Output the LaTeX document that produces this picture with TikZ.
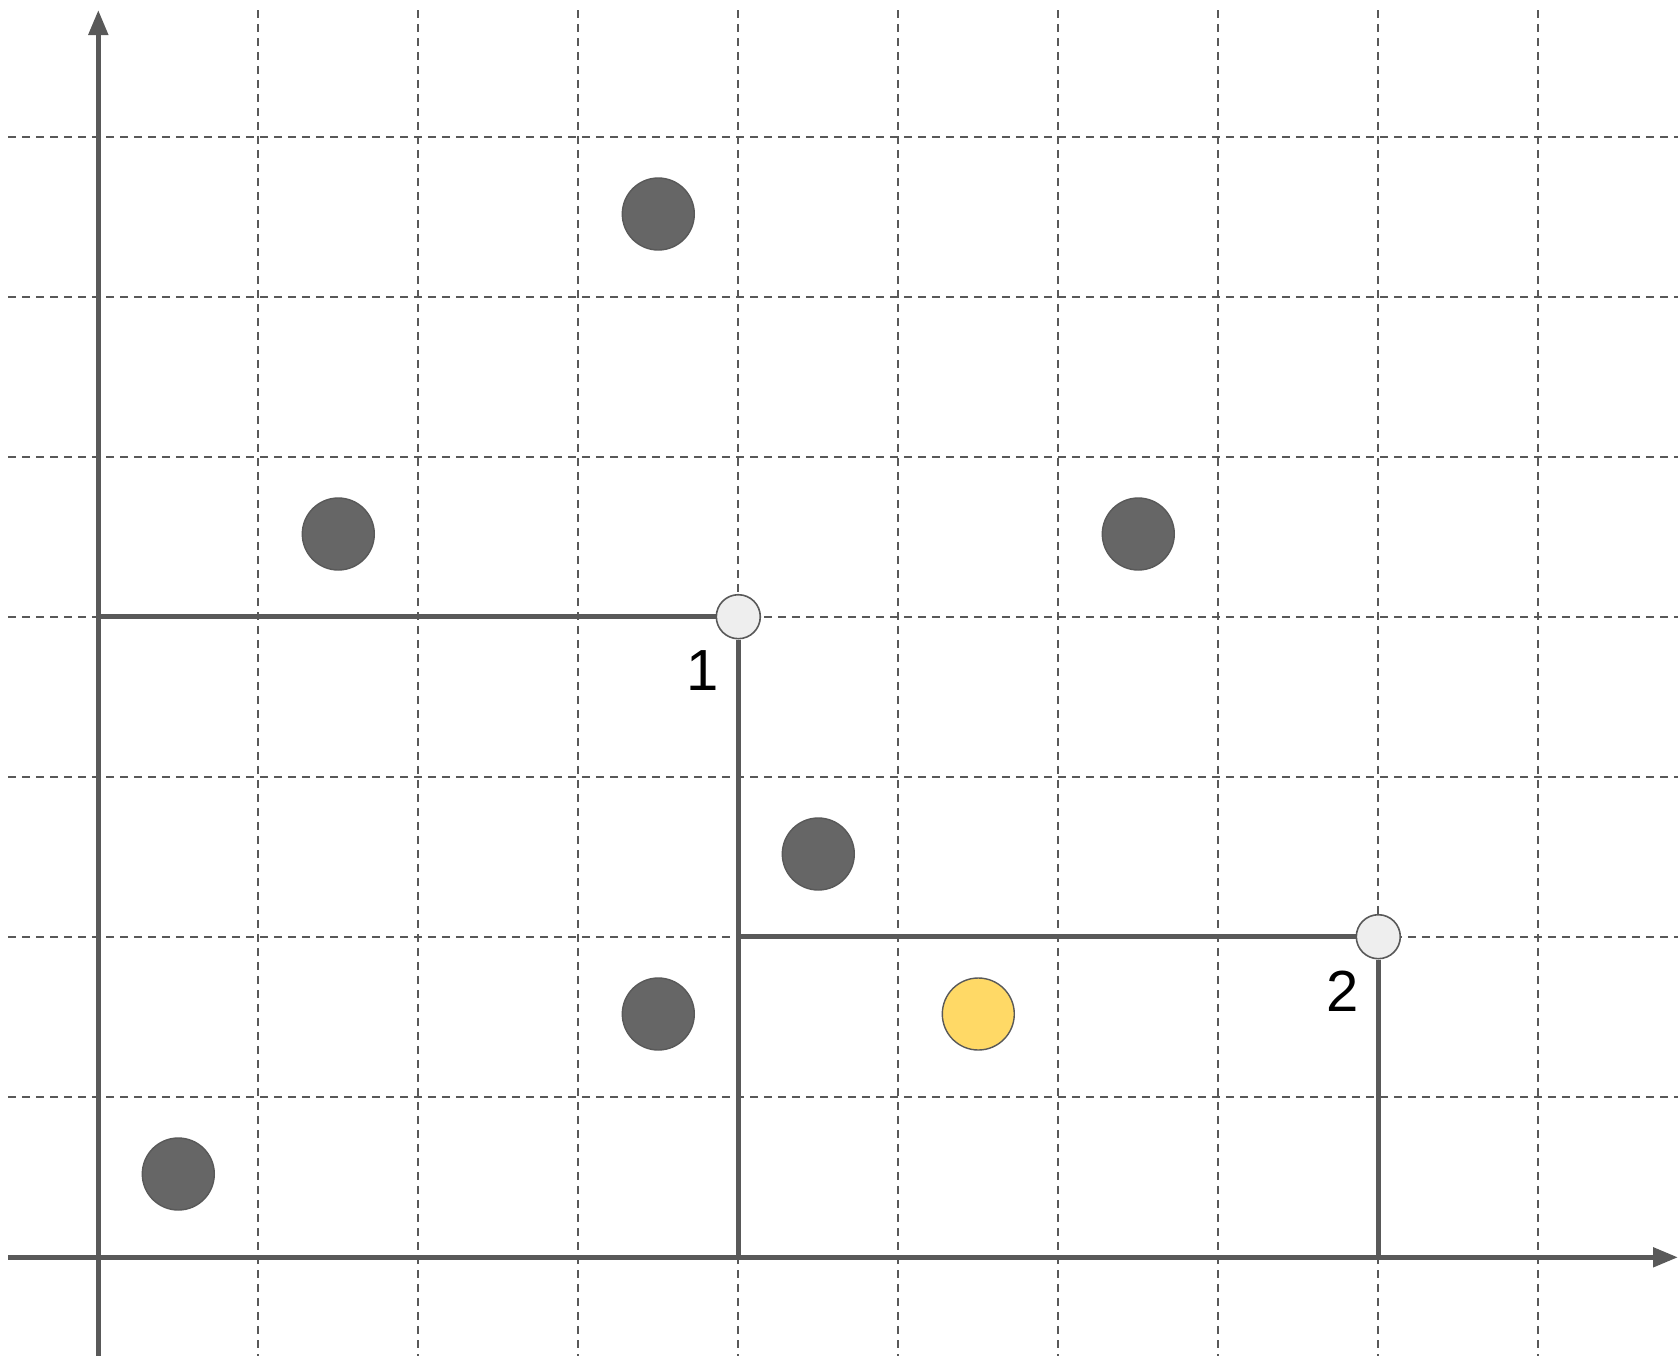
\documentclass[tikz,border=0pt]{standalone}
\usepackage{fontspec}
\setmainfont{Liberation Sans}
\usetikzlibrary{arrows.meta}
\definecolor{linegray}{HTML}{595959}
\definecolor{dotgray}{HTML}{666666}
\definecolor{lightfill}{HTML}{EEEEEE}
\definecolor{yellowfill}{HTML}{FFD966}
\begin{document}
\begin{tikzpicture}[x=0.5pt,y=-0.5pt,
  gridline/.style={draw=linegray, line width=1pt, dash pattern=on 4pt off 3pt},
  axis/.style={draw=linegray, line width=2.5pt, -{Triangle[length=12.5pt,width=9.5pt]}},
  stepline/.style={draw=linegray, line width=2.7pt},
  dot/.style={circle, minimum size=36pt, inner sep=0pt, fill=dotgray, draw=linegray, line width=0.7pt},
  ydot/.style={dot, fill=yellowfill},
  corner/.style={circle, minimum size=22pt, inner sep=0pt, fill=lightfill, draw=linegray, line width=0.8pt},
  lbl/.style={font=\fontsize{29}{34}\selectfont, inner sep=0pt, text=black}]
\useasboundingbox (0,0) rectangle (1678,1356);
% grid
\foreach \x in {258.3,418.3,578.3,738.3,898.3,1058.3,1218.3,1378.3,1538.3}
  \draw[gridline] (\x,10) -- (\x,1356);
\foreach \y in {136.7,296.7,456.7,616.7,776.7,936.7,1096.7}
  \draw[gridline] (8,\y) -- (1678,\y);
% axes
\coordinate (O) at (98.3,1257.3);
\coordinate (ytop) at (98.3,10);
\coordinate (ybot) at (98.3,1356);
\coordinate (xleft) at (8,1257.3);
\coordinate (xright) at (1678,1257.3);
\draw[axis] (ybot) -- (ytop);
\draw[axis] (xleft) -- (xright);
% staircase points
\node[corner] (p1) at (738.3,616.7) {};
\node[corner] (p2) at (1378.3,936.7) {};
\coordinate (h1) at (101,616.7);
\draw[stepline] (h1) -- (p1.west);
\draw[stepline] (p1.south) -- (p1.south |- O);
\draw[stepline] (p1 |- p2) -- (p2.west);
\draw[stepline] (p2.south) -- (p2.south |- O);
% labels
\node[lbl] (l1) at (703,671) {1};
\node[lbl] (l2) at (1343,991) {2};
% data points
\node[dot] (d1) at (658.3,214) {};
\node[dot] (d2) at (338.3,534) {};
\node[dot] (d3) at (1138.3,534) {};
\node[dot] (d4) at (818.3,854) {};
\node[dot] (d5) at (658.3,1014) {};
\node[ydot] (d6) at (978.3,1014) {};
\node[dot] (d7) at (178.3,1174) {};
\end{tikzpicture}
\end{document}
